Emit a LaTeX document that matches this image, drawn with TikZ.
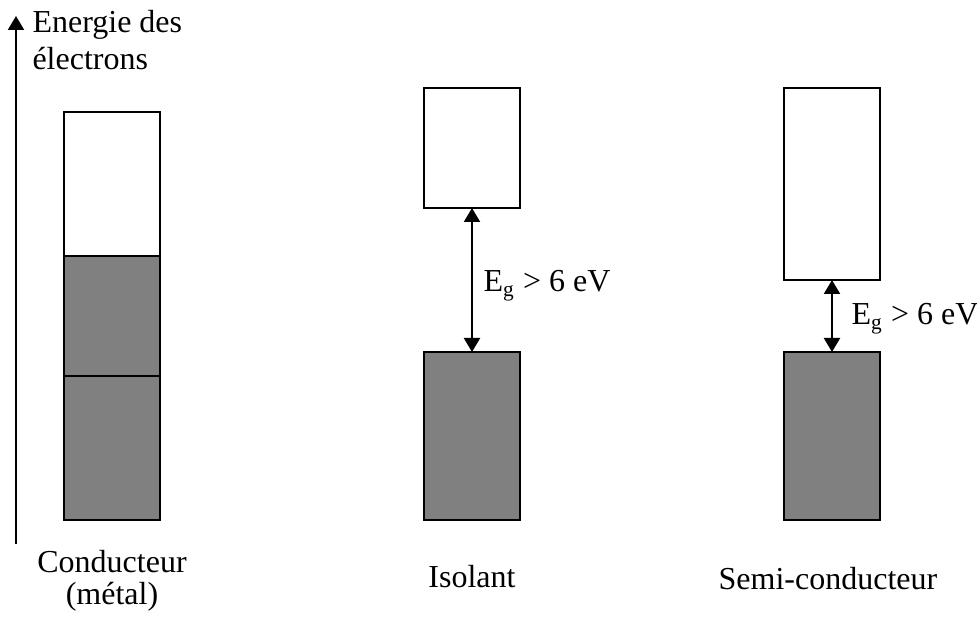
\documentclass[tikz,border=0pt]{standalone}
\usepackage{fontspec}
\setmainfont{Liberation Serif}
\usetikzlibrary{arrows.meta,positioning}

\begin{document}
\begin{tikzpicture}[x=0.375pt, y=-0.375pt, >={Triangle[length=5.25pt,width=6pt]},
    band/.style={draw, rectangle, line width=0.9pt, minimum width=36pt, inner sep=0pt, outer sep=0pt},
    empty/.style={band, fill=white},
    full/.style={band, fill=gray},
    txt/.style={inner sep=0pt, font=\fontsize{12}{13.9}\selectfont}]
    \useasboundingbox (0,0) rectangle (977,617);
    % Energy axis
    \coordinate (axbot) at (16,544);
    \coordinate (axtop) at (16,16);
    \draw[->, line width=0.8pt] (axbot) -- (axtop);
    \node[txt, align=left, anchor=north west] (axlabel) at (32,10) {Energie des\\électrons};
    % Conducteur (metal)
    \node[empty, minimum height=54pt] (ctop) at (112,184) {};
    \node[full, minimum height=45pt] (cmid) at (112,316) {};
    \node[full, minimum height=54pt] (cbot) at (112,448) {};
    \node[txt, font=\fontsize{12}{12}\selectfont, align=center, anchor=base] (clabel) at (112,605) {Conducteur\\(métal)};
    % Isolant
    \node[empty, minimum height=45pt] (icond) at (472,148) {};
    \node[full, minimum height=63pt] (ival) at (472,436) {};
    \node[txt, anchor=base] (ilabel) at (472,588) {Isolant};
    % Semi-conducteur
    \node[empty, minimum height=72pt] (scond) at (832,184) {};
    \node[full, minimum height=63pt] (sval) at (832,436) {};
    \node[txt, anchor=base] (slabel) at (828,590) {Semi-conducteur};
    % Gaps
    \draw[<->, line width=0.8pt] (icond.south) -- (ival.north);
    \node[txt, anchor=base west] (igap) at (483,292) {E\textsubscript{g} > 6 eV};
    \draw[<->, line width=0.8pt] (scond.south) -- (sval.north);
    \node[txt, anchor=base west] (sgap) at (851,325) {E\textsubscript{g} > 6 eV};
\end{tikzpicture}
\end{document}
